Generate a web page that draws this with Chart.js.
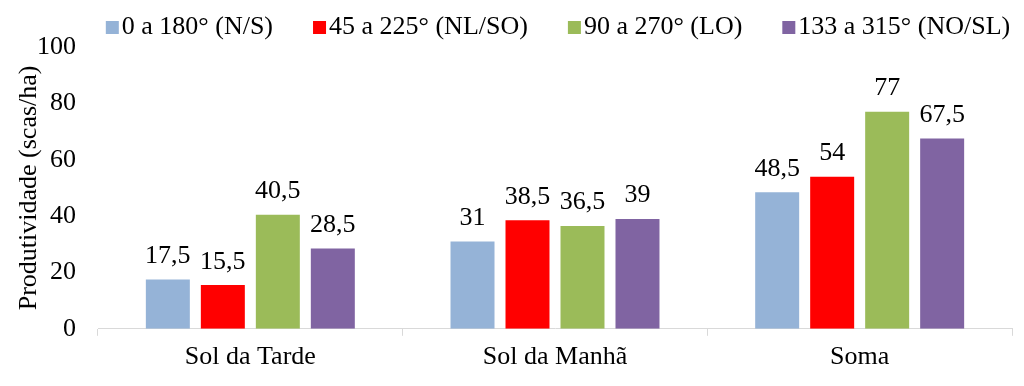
<!DOCTYPE html>
<html>
<head>
<meta charset="utf-8">
<script src="https://cdn.jsdelivr.net/npm/chart.js@4"></script>
<style>
  html, body { margin: 0; padding: 0; background: #fff; }
  #wrap { width: 1024px; height: 386px; }
</style>
</head>
<body>
<div id="wrap"><canvas id="c" width="1024" height="386"></canvas></div>
<script>
const categories = ["Sol da Tarde", "Sol da Manhã", "Soma"];
const seriesNames = ["0 a 180° (N/S)", "45 a 225° (NL/SO)", "90 a 270° (LO)", "133 a 315° (NO/SL)"];
const serieNS = [17.5, 31, 48.5];
const serieNLSO = [15.5, 38.5, 54];
const serieLO = [40.5, 36.5, 77];
const serieNOSL = [28.5, 39, 67.5];
const yTicks = [0, 20, 40, 60, 80, 100];
const colors = ["#95B3D7", "#FF0000", "#9BBB59", "#8064A2"];

const FONT = "'Liberation Serif', 'Times New Roman', serif";

const legendPlugin = {
  id: 'customLegend',
  afterDraw(chart) {
    const ctx = chart.ctx;
    ctx.save();
    ctx.font = "26px " + FONT;
    ctx.textBaseline = 'middle';
    ctx.textAlign = 'left';
    const items = chart.data.datasets.map(d => ({ text: d.label, color: d.backgroundColor, w: ctx.measureText(d.label).width }));
    const box = 13, gapText = 3, gapItem = 40;
    let total = 0;
    items.forEach((it, i) => { total += box + gapText + it.w + (i < items.length - 1 ? gapItem : 0); });
    let x = 558 - total / 2;
    items.forEach(it => {
      ctx.fillStyle = it.color;
      ctx.fillRect(x, 21, box, box);
      ctx.fillStyle = '#000';
      ctx.fillText(it.text, x + box + gapText, 27.5);
      x += box + gapText + it.w + gapItem;
    });
    ctx.restore();
  }
};

const valueLabels = {
  id: 'valueLabels',
  afterDatasetsDraw(chart) {
    const ctx = chart.ctx;
    ctx.save();
    ctx.font = "26px " + FONT;
    ctx.fillStyle = '#000';
    ctx.textAlign = 'center';
    ctx.textBaseline = 'alphabetic';
    chart.data.datasets.forEach((ds, di) => {
      const meta = chart.getDatasetMeta(di);
      meta.data.forEach((bar, i) => {
        const v = ds.data[i];
        ctx.fillText(String(v).replace('.', ','), bar.x, bar.y - 16.5);
      });
    });
    ctx.restore();
  }
};

const seriesData = [serieNS, serieNLSO, serieLO, serieNOSL];

new Chart(document.getElementById('c'), {
  type: 'bar',
  data: {
    labels: categories,
    datasets: seriesData.map((d, i) => ({
      label: seriesNames[i],
      data: d,
      backgroundColor: colors[i],
      borderWidth: 0,
      categoryPercentage: 0.722,
      barPercentage: 0.8
    }))
  },
  options: {
    responsive: false,
    animation: false,
    devicePixelRatio: 1,
    layout: { padding: { top: 47, left: 16, right: 12, bottom: 7 } },
    plugins: {
      legend: { display: false },
      tooltip: { enabled: false }
    },
    scales: {
      x: {
        grid: { display: true, drawOnChartArea: false, drawTicks: true, tickLength: 7, color: '#D9D9D9', offset: true },
        border: { display: true, color: '#D9D9D9', width: 1 },
        ticks: { color: '#000', font: { family: FONT, size: 26 }, padding: 6 }
      },
      y: {
        min: 0, max: 100,
        afterBuildTicks(scale) { scale.ticks = yTicks.map(v => ({ value: v })); },
        afterFit(scale) { scale.width = 82; },
        grid: { display: false, drawTicks: false },
        border: { display: false },
        ticks: { color: '#000', font: { family: FONT, size: 26 }, padding: 22 },
        title: {
          display: true,
          text: 'Produtividade (scas/ha)',
          color: '#000',
          font: { family: FONT, size: 26, lineHeight: 1 },
          padding: { top: 0, bottom: 0 }
        }
      }
    }
  },
  plugins: [legendPlugin, valueLabels]
});
</script>
</body>
</html>
